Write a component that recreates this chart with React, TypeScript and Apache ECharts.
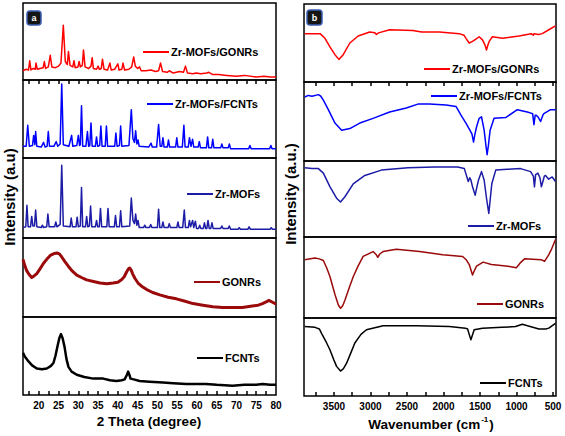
import React, { useEffect, useRef } from "react";
import * as echarts from "echarts";

const FONT = "'Liberation Sans', Arial, sans-serif";

// ---------- Panel (a): XRD, 2 Theta (degree) ----------
const xrdTickValues = [17.5, 20, 22.5, 25, 27.5, 30, 32.5, 35, 37.5, 40, 42.5, 45, 47.5, 50, 52.5, 55, 57.5, 60, 62.5, 65, 67.5, 70, 72.5, 75, 77.5];
const xrdLabelValues = [20, 25, 30, 35, 40, 45, 50, 55, 60, 65, 70, 75, 80];

const xrdZrGonrs = [[16,12],[16.8,14],[17.4,13],[17.7,25],[18.0,13],[18.6,15],[19.1,14],[19.3,22],[19.6,14],[20.3,15],[21.1,16],[21.4,24],[21.7,15],[22.4,17],[22.9,32],[23.3,17],[24.2,16],[25.0,18],[25.6,22],[26.2,71],[26.7,24],[27.2,20],[27.5,37],[27.9,19],[28.6,17],[28.9,25],[29.2,16],[29.9,17],[30.2,24],[30.5,17],[31.0,19],[31.3,39],[31.7,17],[32.6,15],[33.2,18],[33.5,29],[33.8,15],[34.6,14],[35.0,18],[35.3,14],[35.8,15],[36.1,27],[36.5,14],[37.4,13],[38.0,22],[38.3,13],[39.2,14],[40.0,21],[40.3,13],[41.0,14],[41.3,22],[41.7,13],[42.8,14],[43.5,17],[44.0,30],[44.4,18],[45.0,15],[45.5,17],[45.9,12],[47.0,12],[48.4,13],[49.5,11],[50.3,12],[50.8,22],[51.3,11],[52.5,10],[53.0,12],[54.0,9],[55.6,11],[56.6,10],[57.1,18],[57.6,9],[59.0,8],[59.8,9],[61.0,8],[62.5,9],[63.0,10],[64.0,7],[65.5,7],[67.5,6],[70,5],[72,6],[75,4],[77,5],[78.5,4],[80,4]];

const xrdZrFcnts = [[16,15],[16.8,15],[17.2,42],[17.6,15],[18.4,16],[18.7,29],[19.0,17],[19.2,34],[19.5,15],[20.6,14],[21.2,20],[21.6,14],[22.1,15],[22.4,34],[22.7,15],[23.8,15],[24.4,21],[24.8,15],[25.4,18],[25.8,95],[26.2,17],[27.6,15],[28.3,29],[28.6,15],[29.6,16],[30.0,29],[30.3,16],[30.5,17],[30.8,67],[31.1,15],[31.9,15],[32.3,34],[32.6,15],[32.9,16],[33.2,45],[33.5,15],[34.3,15],[34.6,27],[34.9,15],[35.4,16],[35.7,41],[36.0,15],[36.8,15],[37.1,41],[37.4,15],[39.2,15],[39.5,32],[39.8,15],[40.4,16],[40.7,41],[41.0,15],[42.8,16],[43.4,62],[43.8,25],[44.2,20],[44.5,35],[44.8,18],[45.1,23],[45.4,15],[47.8,14],[48.4,19],[48.7,14],[49.8,14],[50.3,43],[50.7,15],[51.1,15],[51.4,26],[51.7,14],[52.5,14],[52.8,23],[53.1,14],[54.6,14],[54.9,26],[55.2,14],[56.3,14],[56.7,42],[57.0,14],[57.8,14],[58.1,26],[58.5,15],[58.9,24],[59.2,14],[60.3,14],[60.6,21],[60.9,13],[62.4,13],[62.7,27],[63.0,13],[63.7,13],[64.0,24],[64.3,13],[66.0,13],[66.3,18],[66.6,13],[67.9,13],[68.2,18],[68.5,12],[70.5,12],[73.1,12],[73.4,16],[73.7,12],[76,12],[78.4,12],[78.7,16],[79.0,12],[80,12]];

const xrdZrMofs = [[16,13],[16.7,14],[17.0,41],[17.3,14],[17.9,14],[18.2,27],[18.5,15],[18.9,15],[19.2,35],[19.5,14],[20.6,13],[20.9,16],[21.2,13],[22.0,14],[22.3,30],[22.6,14],[24.0,14],[24.3,20],[24.6,14],[25.4,17],[25.8,91],[26.2,15],[27.9,14],[28.2,25],[28.5,14],[29.4,14],[29.7,26],[30.0,14],[30.5,15],[30.8,63],[31.1,14],[31.8,14],[32.1,27],[32.4,14],[32.8,15],[33.1,40],[33.4,14],[34.3,14],[34.6,22],[34.9,14],[35.3,14],[35.6,37],[35.9,14],[37.2,14],[37.5,37],[37.8,14],[39.1,14],[39.4,28],[39.7,14],[40.4,14],[40.7,34],[41.0,14],[43.0,15],[43.4,50],[43.8,22],[44.2,18],[44.5,30],[44.8,16],[45.1,22],[45.4,13],[46.5,13],[46.8,16],[47.1,13],[48.0,13],[48.3,17],[48.6,13],[50.0,13],[50.3,36],[50.6,13],[51.1,13],[51.4,20],[51.7,13],[52.7,13],[53.0,18],[53.3,13],[54.9,13],[55.2,20],[55.5,13],[56.4,13],[56.8,35],[57.1,13],[57.8,13],[58.1,22],[58.4,14],[58.9,22],[59.2,13],[59.6,21],[59.9,12],[60.4,12],[60.7,16],[61.0,12],[61.6,12],[61.9,19],[62.2,12],[62.5,12],[62.8,22],[63.1,12],[63.5,12],[63.8,19],[64.1,12],[66.0,12],[66.3,15],[66.6,12],[67.9,12],[68.2,15],[68.5,11],[70.4,11],[70.7,13],[71.0,11],[72.9,11],[73.2,14],[73.5,11],[76,11],[78.5,11],[78.8,13],[79.1,11],[80,11]];

const xrdGonrs = [[16,73],[16.4,66],[16.9,59],[17.5,54],[18.2,50],[18.8,52],[19.5,55],[20.3,61],[21.2,68],[22.0,73],[22.9,78],[23.7,80],[24.6,81],[25.2,80],[25.8,76],[26.6,70],[27.5,64],[28.5,58],[29.6,53],[30.8,50],[32.1,47],[33.8,45],[35.5,43],[37.2,42],[38.8,43],[40.0,44],[40.9,47],[41.6,51],[42.2,57],[42.7,61],[43.0,62],[43.4,59],[43.7,55],[44.3,49],[45.1,43],[46.0,39],[47.2,35],[48.8,31],[50.6,28],[52.7,25],[54.8,23],[57.0,20],[59.0,17],[61.5,15],[64.0,13],[66.5,12],[69.0,12],[71.5,12],[74.0,14],[75.5,15],[76.6,17],[77.5,19],[78.2,21],[79.0,19],[79.8,17],[80,17]];

const xrdFcnts = [[16,54],[16.5,49],[17.4,43],[18.3,38],[19.5,34],[20.8,33],[22.0,34],[23.0,37],[23.7,41],[24.2,50],[24.7,62],[25.2,73],[25.6,78],[26.0,73],[26.5,62],[27.0,46],[27.5,36],[28.3,30],[29.6,26],[31.5,23],[33.8,21],[36.3,21],[38.0,19],[39.6,18],[41.0,19],[41.7,20],[42.3,26],[42.6,30],[42.9,26],[43.2,21],[44.0,20],[45.5,18],[48.0,17],[51.4,16],[54.0,15],[57.3,14],[60.0,14],[62.3,14],[65.0,13],[69.0,12],[72.0,13],[75.0,13],[76.6,14],[78.5,13],[80,13]];

// ---------- Panel (b): FTIR, Wavenumber ----------
const ftirTickValues = [3750, 3500, 3250, 3000, 2750, 2500, 2250, 2000, 1750, 1500, 1250, 1000, 750, 500];
const ftirLabelValues = [3500, 3000, 2500, 2000, 1500, 1000, 500];

const ftirZrGonrs = [[3900,62],[3800,62],[3690,62],[3623,56],[3555,45],[3486,35],[3432,29],[3373,35],[3282,50],[3169,59],[3010,64],[2940,63],[2919,61],[2890,63],[2737,67],[2420,66],[2300,64],[2056,64],[1784,62],[1720,60],[1693,56],[1648,50],[1603,52],[1557,55],[1512,58],[1467,54],[1430,47],[1412,41],[1390,48],[1375,52],[1330,58],[1194,56],[967,59],[800,62],[770,60],[762,62],[700,61],[649,62],[558,67],[467,72]];

const ftirZrFcnts = [[3900,81],[3850,83],[3800,82],[3713,84],[3680,82],[3645,77],[3577,65],[3486,48],[3395,39],[3282,41],[3146,48],[2964,54],[2737,62],[2510,67],[2351,72],[2192,72],[1965,71],[1829,69],[1761,58],[1693,48],[1639,39],[1610,34],[1589,24],[1570,34],[1548,43],[1512,54],[1480,56],[1444,39],[1420,20],[1403,8],[1385,20],[1362,39],[1308,54],[1149,55],[989,65],[853,62],[780,60],[762,46],[745,58],[730,58],[700,55],[671,50],[640,58],[626,60],[535,65],[467,65]];

const ftirZrMofs = [[3900,91],[3800,90],[3713,90],[3645,84],[3554,66],[3464,51],[3410,46],[3350,53],[3236,70],[3077,81],[2850,88],[2487,91],[2124,92],[1806,92],[1715,90],[1661,73],[1640,78],[1625,75],[1600,65],[1566,55],[1545,65],[1521,75],[1480,86],[1444,75],[1410,50],[1380,31],[1360,50],[1339,70],[1285,88],[1126,89],[944,90],[808,86],[770,80],[755,66],[739,82],[708,84],[680,78],[660,66],[648,70],[620,80],[603,81],[560,76],[512,79],[467,73]];

const ftirGonrs = [[3900,72],[3759,74],[3700,73],[3645,71],[3600,62],[3554,51],[3486,29],[3440,16],[3410,12],[3380,15],[3350,22],[3280,40],[3236,51],[3170,64],[3100,76],[2964,82],[2920,78],[2900,75],[2873,79],[2827,82],[2646,85],[2328,82],[2010,78],[1738,76],[1690,72],[1648,66],[1620,58],[1603,53],[1580,58],[1548,64],[1458,69],[1344,66],[1117,64],[1003,62],[950,68],[890,73],[663,72],[617,70],[560,78],[526,84],[467,97]];

const ftirFcnts = [[3900,89],[3759,88],[3700,86],[3668,80],[3600,68],[3554,59],[3500,46],[3464,38],[3410,32],[3370,35],[3327,42],[3270,55],[3214,68],[3130,79],[3055,85],[2827,90],[2374,90],[1920,89],[1700,87],[1670,86],[1645,78],[1625,72],[1605,78],[1580,85],[1467,87],[1200,88],[1014,89],[921,92],[850,90],[694,86],[600,86],[558,87],[467,93]];

const sampleNames = ["Zr-MOFs/GONRs", "Zr-MOFs/FCNTs", "Zr-MOFs", "GONRs", "FCNTs"];
const sampleColors = ["#ff0000", "#0000ff", "#1c1ca6", "#9a0a0a", "#000000"];
const xrdSeries = [xrdZrGonrs, xrdZrFcnts, xrdZrMofs, xrdGonrs, xrdFcnts];
const ftirSeries = [ftirZrGonrs, ftirZrFcnts, ftirZrMofs, ftirGonrs, ftirFcnts];

// layout
const leftTops = [3, 80, 158, 238, 317, 395];
const rightTops = [4, 82, 161, 237, 318, 396];
const xrdWidths = [1.5, 1.5, 1.5, 3, 2.5];
const ftirWidths = [1.5, 1.5, 1.5, 1.5, 1.5];
const xrdLegendPos = [[143, 52], [147, 104], [187, 194], [194, 282], [197, 358]];
const ftirLegendPos = [[424, 69], [431, 96], [468, 226], [477, 304], [480, 383]];

function buildOption() {
  const grids: any[] = [];
  const xAxes: any[] = [];
  const yAxes: any[] = [];
  const series: any[] = [];
  const graphics: any[] = [];

  const tickStyle = { show: true, inside: true, length: 4, lineStyle: { color: "#000", width: 1.5 } };
  const labelStyle = { color: "#000", fontFamily: FONT, fontWeight: "bold", fontSize: 10, lineHeight: 10, margin: 5, formatter: (v: number) => String(v) };

  for (let col = 0; col < 2; col++) {
    const tops = col === 0 ? leftTops : rightTops;
    for (let i = 0; i < 5; i++) {
      const idx = col * 5 + i;
      grids.push({
        left: col === 0 ? 23 : 304,
        width: col === 0 ? 253 : 252,
        top: tops[i],
        height: tops[i + 1] - tops[i],
        show: true,
        borderColor: "#000",
        borderWidth: 1.5,
        backgroundColor: "transparent",
      });
      const isEdge = i === 0 || i === 4;
      xAxes.push({
        type: "value",
        gridIndex: idx,
        min: col === 0 ? 16 : 460,
        max: col === 0 ? 80 : 3910,
        inverse: col === 1,
        position: i === 0 ? "top" : "bottom",
        show: isEdge,
        axisLine: { show: false },
        splitLine: { show: false },
        axisTick: { ...tickStyle, customValues: col === 0 ? xrdTickValues : ftirTickValues },
        axisLabel: { ...labelStyle, show: i === 4, customValues: col === 0 ? xrdLabelValues : ftirLabelValues },
      });
      yAxes.push({ type: "value", gridIndex: idx, min: 0, max: 100, show: false });
      series.push({
        type: "line",
        name: sampleNames[i] + (col === 0 ? " XRD" : " FTIR"),
        xAxisIndex: idx,
        yAxisIndex: idx,
        data: col === 0 ? xrdSeries[i] : ftirSeries[i],
        showSymbol: false,
        lineStyle: { color: sampleColors[i], width: col === 0 ? xrdWidths[i] : ftirWidths[i], join: "round" },
        itemStyle: { color: sampleColors[i] },
      });
      const lp = col === 0 ? xrdLegendPos[i] : ftirLegendPos[i];
      graphics.push({
        type: "line",
        shape: { x1: lp[0], y1: lp[1], x2: lp[0] + 26, y2: lp[1] },
        style: { stroke: sampleColors[i], lineWidth: 2 },
      });
      graphics.push({
        type: "text",
        x: lp[0] + 28,
        y: lp[1],
        style: { text: sampleNames[i], fill: "#000", font: `bold 11px ${FONT}`, textVerticalAlign: "middle", textAlign: "left" },
      });
    }
  }

  // panel tags
  const tags = [["a", 27, 11, 14], ["b", 307, 10, 15]];
  tags.forEach(([t, x, y, s]: any) => {
    graphics.push({
      type: "rect",
      shape: { x, y, width: s, height: s, r: 3 },
      style: { fill: "#151515", stroke: "#3a5db0", lineWidth: 1.5 },
    });
    graphics.push({
      type: "text",
      x: x + s / 2,
      y: y + s / 2,
      style: { text: t, fill: "#fff", font: `bold 9px ${FONT}`, textAlign: "center", textVerticalAlign: "middle" },
    });
  });

  // axis titles
  graphics.push({
    type: "text",
    x: 149,
    y: 421,
    style: { text: "2 Theta (degree)", fill: "#000", font: `bold 13.5px ${FONT}`, textAlign: "center", textVerticalAlign: "middle" },
  });
  graphics.push({
    type: "text",
    x: 431,
    y: 423,
    style: {
      text: "{a|Wavenumber (cm}{s|-1}{a|)}",
      textAlign: "center",
      textVerticalAlign: "middle",
      rich: {
        a: { fill: "#000", font: `bold 13.5px ${FONT}`, verticalAlign: "bottom" },
        s: { fill: "#000", font: `bold 8px ${FONT}`, verticalAlign: "top", padding: [0, 1, 8, 1] },
      },
    },
  });
  graphics.push({
    type: "text",
    x: 9,
    y: 197,
    rotation: Math.PI / 2,
    style: { text: "Intensity (a.u)", fill: "#000", font: `bold 15px ${FONT}`, textAlign: "center", textVerticalAlign: "middle" },
  });
  graphics.push({
    type: "text",
    x: 290,
    y: 194,
    rotation: Math.PI / 2,
    style: { text: "Intensity (a.u.)", fill: "#000", font: `bold 15px ${FONT}`, textAlign: "center", textVerticalAlign: "middle" },
  });

  return {
    animation: false,
    backgroundColor: "#fff",
    textStyle: { fontFamily: FONT },
    grid: grids,
    xAxis: xAxes,
    yAxis: yAxes,
    series,
    graphic: graphics,
  };
}

export default function App() {
  const ref = useRef<HTMLDivElement>(null);
  useEffect(() => {
    if (!ref.current) return;
    const chart = echarts.init(ref.current, undefined, { renderer: "svg" });
    chart.setOption(buildOption());
    return () => chart.dispose();
  }, []);
  return <div ref={ref} style={{ position: "fixed", left: 0, top: 0, width: 565, height: 436 }} />;
}
